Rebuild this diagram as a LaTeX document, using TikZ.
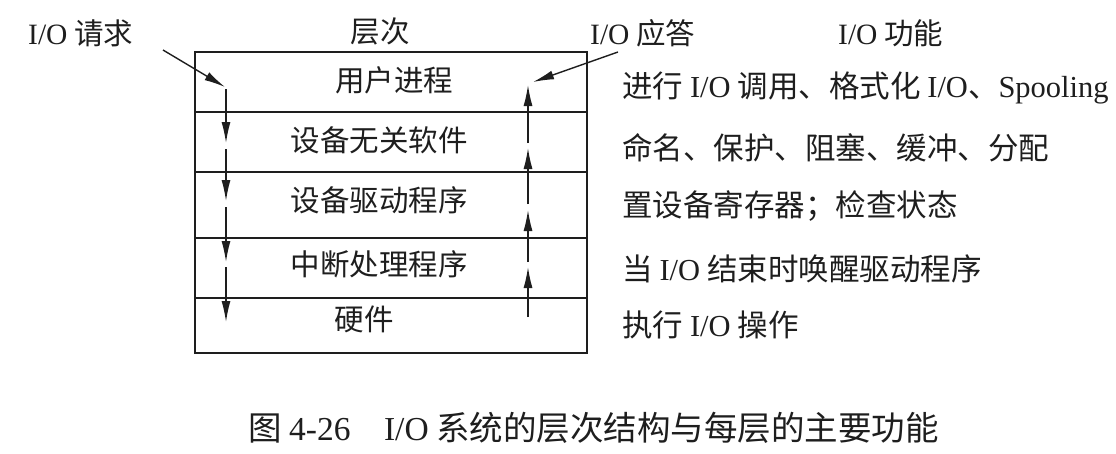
\documentclass[tikz,border=0pt]{standalone}
\usepackage{fontspec}
\setmainfont{Liberation Serif}
\newfontfamily\cjk{Noto Sans CJK SC}
\newcommand\lat[1]{{\rmfamily #1}}
\usetikzlibrary{arrows.meta}
\definecolor{ink}{RGB}{30,30,30}
\begin{document}
\begin{tikzpicture}[x=1pt,y=-1pt,
  lbl/.style={font=\cjk\fontsize{29.5}{34}\selectfont, inner sep=0pt, text=ink},
  fn/.style={lbl, anchor=west, font=\cjk\fontsize{30.5}{35}\selectfont},
  box/.style={draw=ink, line width=1.6pt},
  flow/.style={draw=ink, line width=1.4pt, -{Latex[length=21pt,width=9pt]}}]
\useasboundingbox (0,0) rectangle (1116,453);
\fill[white] (0,0) rectangle (1116,453);
% layered box
\draw[box] (195,52) rectangle (587,353);
\foreach \y in {112,172,238,298} \draw[box] (195,\y) -- (587,\y);
% layer labels
\node[lbl] (l1) at (394,80) {用户进程};
\node[lbl] (l2) at (379,140) {设备无关软件};
\node[lbl] (l3) at (379,200) {设备驱动程序};
\node[lbl] (l4) at (379,264) {中断处理程序};
\node[lbl] (l5) at (364,319) {硬件};
% headers
\node[lbl] (hdr) at (380,31) {层次};
\node[lbl, anchor=west] (req) at (28,33) {\lat{I/O} 请求};
\node[lbl, anchor=west] (resp) at (590,33) {\lat{I/O} 应答};
\node[lbl, anchor=west] (fnh) at (838,33) {\lat{I/O} 功能};
% functions
\node[fn] (f1) at (622,88) {进行 \lat{I/O} 调用、格式化 \lat{I/O}、\lat{Spooling}};
\node[fn] (f2) at (622,148) {命名、保护、阻塞、缓冲、分配};
\node[fn] (f3) at (622,206) {置设备寄存器；检查状态};
\node[fn] (f4) at (622,269) {当 \lat{I/O} 结束时唤醒驱动程序};
\node[fn] (f5) at (622,325) {执行 \lat{I/O} 操作};
% request path
\coordinate (rq0) at (163,50);
\coordinate (a0) at (225,87);
\coordinate (a1s) at (226,89);  \coordinate (a1) at (226,143);
\coordinate (a2s) at (226,149); \coordinate (a2) at (226,201);
\coordinate (a3s) at (226,207); \coordinate (a3) at (226,262);
\coordinate (a4s) at (226,267); \coordinate (a4) at (226,322);
\draw[flow] (rq0) -- (a0);
\draw[flow] (a1s) -- (a1);
\draw[flow] (a2s) -- (a2);
\draw[flow] (a3s) -- (a3);
\draw[flow] (a4s) -- (a4);
% response path
\coordinate (b4s) at (528,317); \coordinate (b4) at (528,267);
\coordinate (b3s) at (528,262); \coordinate (b3) at (528,210);
\coordinate (b2s) at (528,204); \coordinate (b2) at (528,148);
\coordinate (b1s) at (528,143); \coordinate (b1) at (528,85);
\coordinate (rs0) at (618,52);
\coordinate (rs1) at (533,82);
\draw[flow] (b4s) -- (b4);
\draw[flow] (b3s) -- (b3);
\draw[flow] (b2s) -- (b2);
\draw[flow] (b1s) -- (b1);
\draw[flow] (rs0) -- (rs1);
% caption
\node[anchor=west, inner sep=0pt, text=ink, font=\cjk\fontsize{33.5}{38}\selectfont] (cap) at (248,428) {图 \lat{4-26}\quad \lat{I/O} 系统的层次结构与每层的主要功能};
\end{tikzpicture}
\end{document}
